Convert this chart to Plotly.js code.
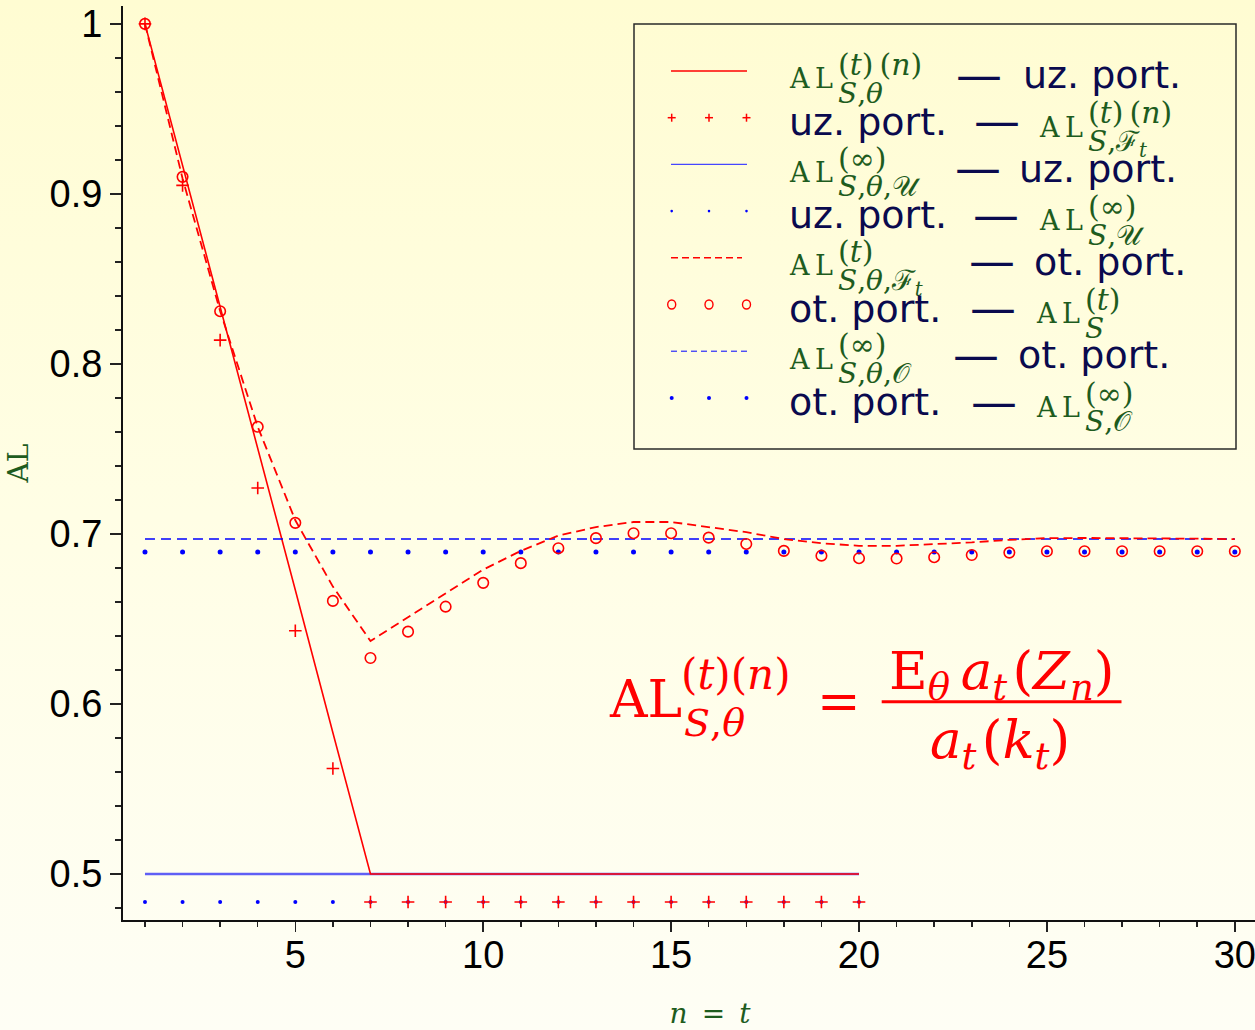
<!DOCTYPE html>
<html><head><meta charset="utf-8">
<script src="https://cdn.plot.ly/plotly-3.0.1.min.js"></script>
<style>
html,body{margin:0;padding:0;}
body{width:1255px;height:1030px;overflow:hidden;background:linear-gradient(to bottom,#fffcd2 0%,#fffee5 50%,#fefef5 100%);}
#chart{width:1255px;height:1030px;}
</style></head><body><div id="chart"></div>
<script>
// ---------- data ----------
const nUz = [1,2,3,4,5,6,7,8,9,10,11,12,13,14,15,16,17,18,19,20];
const nOt = [1,2,3,4,5,6,7,8,9,10,11,12,13,14,15,16,17,18,19,20,21,22,23,24,25,26,27,28,29,30];
// AL_{S,theta}^{(t)(n)} -- uz. port. (red solid)
const alThetaN = [1,0.917,0.833,0.75,0.667,0.583,0.5,0.5,0.5,0.5,0.5,0.5,0.5,0.5,0.5,0.5,0.5,0.5,0.5,0.5];
// uz. port. -- AL_{S,F_t}^{(t)(n)} (red +)
const alFtN = [1,0.905,0.814,0.727,0.643,0.562,0.4835,0.4835,0.4835,0.4835,0.4835,0.4835,0.4835,0.4835,0.4835,0.4835,0.4835,0.4835,0.4835,0.4835];
// AL^{(inf)}_{S,theta,U} -- uz. port. (blue solid)
const alInfThetaU = [0.5,0.5,0.5,0.5,0.5,0.5,0.5,0.5,0.5,0.5,0.5,0.5,0.5,0.5,0.5,0.5,0.5,0.5,0.5,0.5];
// uz. port. -- AL^{(inf)}_{S,U} (blue dots)
const alInfU = [0.4835,0.4835,0.4835,0.4835,0.4835,0.4835,0.4835,0.4835,0.4835,0.4835,0.4835,0.4835,0.4835,0.4835,0.4835,0.4835,0.4835,0.4835,0.4835,0.4835];
// AL^{(t)}_{S,theta,F_t} -- ot. port. (red dashed)
const alThetaFt = [1,0.909,0.831,0.763,0.708,0.669,0.637,0.651,0.665,0.679,0.690,0.699,0.704,0.707,0.707,0.704,0.701,0.697,0.6945,0.693,0.693,0.694,0.695,0.6965,0.6975,0.6976,0.6976,0.6976,0.6972,0.6969];
// ot. port. -- AL^{(t)}_S (red circles)
const alS = [1,0.910,0.831,0.763,0.7065,0.6606,0.627,0.6425,0.6572,0.6712,0.6828,0.6916,0.6975,0.7004,0.7004,0.6978,0.6941,0.690,0.6872,0.6857,0.6855,0.6863,0.6876,0.689,0.6898,0.6898,0.6898,0.6898,0.6898,0.6898];
// AL^{(inf)}_{S,theta,O} -- ot. port. (blue dashed)
const alInfThetaO = [0.697,0.697,0.697,0.697,0.697,0.697,0.697,0.697,0.697,0.697,0.697,0.697,0.697,0.697,0.697,0.697,0.697,0.697,0.697,0.697,0.697,0.697,0.697,0.697,0.697,0.697,0.697,0.697,0.697,0.697];
// ot. port. -- AL^{(inf)}_{S,O} (blue dots)
const alInfO = [0.6894,0.6894,0.6894,0.6894,0.6894,0.6894,0.6894,0.6894,0.6894,0.6894,0.6894,0.6894,0.6894,0.6894,0.6894,0.6894,0.6894,0.6894,0.6894,0.6894,0.6894,0.6894,0.6894,0.6894,0.6894,0.6894,0.6894,0.6894,0.6894,0.6894];

const xTickVals = [5,10,15,20,25,30];
const xTickText = ['5','10','15','20','25','30'];
const yTickVals = [0.5,0.6,0.7,0.8,0.9,1];
const yTickText = ['0.5','0.6','0.7','0.8','0.9','1'];

// legend texts
const legSup = ['(<i>t</i>)\u2009(<i>n</i>)','(<i>t</i>)\u2009(<i>n</i>)','(\u221e)','(\u221e)','(<i>t</i>)','(<i>t</i>)','(\u221e)','(\u221e)'];
const legSub = ['<i>S</i>,<i>\u03b8</i>','<i>S</i>,\u2131<sub><i>t</i></sub>','<i>S</i>,<i>\u03b8</i>,\ud835\udcb0','<i>S</i>,\ud835\udcb0','<i>S</i>,<i>\u03b8</i>,\u2131<sub><i>t</i></sub>','<i>S</i>','<i>S</i>,<i>\u03b8</i>,\ud835\udcaa','<i>S</i>,\ud835\udcaa'];
const legPort = ['uz. port.','uz. port.','uz. port.','uz. port.','ot. port.','ot. port.','ot. port.','ot. port.'];

// ---------- geometry helpers (pixel -> paper) ----------
const L = 123, T = 6, PW = 1132, PH = 914;
const px = v => (v - L) / PW;
const py = v => (T + PH - v) / PH;
const RED = '#ff0000', BLUE = '#0000ff', GREEN = '#1e5c1e', NAVY = '#0a0a4e';
const SERIF = 'DejaVu Serif, Liberation Serif, serif';
const SANS = 'DejaVu Sans, Liberation Sans, sans-serif';

function txt(text, x, baseline, size, family, color, anchor) {
  return {text: text, xref: 'paper', yref: 'paper', x: px(x), y: py(baseline - 0.928 * size),
    xanchor: anchor || 'left', yanchor: 'top', showarrow: false, borderpad: 0,
    font: {size: size, family: family, color: color}};
}

// ---------- traces ----------
const traces = [
  {x: nUz, y: alInfThetaU, mode: 'lines', name: 'AL(inf) S,theta,U - uz. port.', line: {color: 'rgb(95,95,245)', width: 2.5}},
  {x: nUz, y: alInfU, mode: 'markers', name: 'uz. port. - AL(inf) S,U', marker: {color: BLUE, size: 4}},
  {x: nUz, y: alThetaN, mode: 'lines', name: 'AL(t)(n) S,theta - uz. port.', line: {color: RED, width: 1.6}},
  {x: nUz, y: alFtN, mode: 'markers', name: 'uz. port. - AL(t)(n) S,Ft', marker: {symbol: 'cross-thin-open', size: 9, color: RED, line: {color: RED, width: 1.6}}},
  {x: nOt, y: alInfThetaO, mode: 'lines', name: 'AL(inf) S,theta,O - ot. port.', line: {color: BLUE, width: 1.4, dash: '10px,6px'}},
  {x: nOt, y: alInfO, mode: 'markers', name: 'ot. port. - AL(inf) S,O', marker: {color: BLUE, size: 5}},
  {x: nOt, y: alThetaFt, mode: 'lines', name: 'AL(t) S,theta,Ft - ot. port.', line: {color: RED, width: 1.8, dash: '9px,5px'}},
  {x: nOt, y: alS, mode: 'markers', name: 'ot. port. - AL(t) S', marker: {symbol: 'circle-open', size: 10.5, color: RED, line: {color: RED, width: 1.6}}}
];

// ---------- legend (box, samples, texts) ----------
const shapes = [];
const annotations = [];
shapes.push({type: 'rect', xref: 'paper', yref: 'paper', x0: px(634), x1: px(1236), y0: py(24), y1: py(449),
  line: {color: '#2a2a2a', width: 1.5}, fillcolor: 'rgba(0,0,0,0)'});
const rowB = i => 87.5 + 46.7 * i;
const sampleY = i => rowB(i) - 16.5;
function lineSample(i, color, width, dash, x1) {
  shapes.push({type: 'line', xref: 'paper', yref: 'paper', x0: px(671), x1: px(x1 || 747), y0: py(sampleY(i)), y1: py(sampleY(i)),
    line: {color: color, width: width, dash: dash || 'solid'}});
}
const mx = [671.7, 709, 746.5];
lineSample(0, RED, 1.5);
mx.forEach(x => {
  const y = sampleY(1);
  shapes.push({type: 'line', xref: 'paper', yref: 'paper', x0: px(x - 4), x1: px(x + 4), y0: py(y), y1: py(y), line: {color: RED, width: 1.5}});
  shapes.push({type: 'line', xref: 'paper', yref: 'paper', x0: px(x), x1: px(x), y0: py(y - 4), y1: py(y + 4), line: {color: RED, width: 1.5}});
});
lineSample(2, 'rgb(70,70,255)', 1.2);
mx.forEach(x => { const y = sampleY(3);
  shapes.push({type: 'circle', xref: 'paper', yref: 'paper', x0: px(x - 1.3), x1: px(x + 1.3), y0: py(y - 1.3), y1: py(y + 1.3), line: {width: 0}, fillcolor: BLUE}); });
lineSample(4, RED, 1.5, '7px,4px', 742);
mx.forEach(x => { const y = sampleY(5);
  shapes.push({type: 'circle', xref: 'paper', yref: 'paper', x0: px(x - 4), x1: px(x + 4), y0: py(y - 4.5), y1: py(y + 4.5), line: {color: RED, width: 1.4}}); });
lineSample(6, BLUE, 1, '6px,4px');
mx.forEach(x => { const y = sampleY(7);
  shapes.push({type: 'circle', xref: 'paper', yref: 'paper', x0: px(x - 2), x1: px(x + 2), y0: py(y - 2), y1: py(y + 2), line: {width: 0}, fillcolor: BLUE}); });

const leftAL = [true, false, true, false, true, false, true, false];
const dashX = [955, 973, 953.5, 972, 968, 969, 951.5, 970];
const rightX = [1021.7, 1038.4, 1017.8, 1038.4, 1033, 1035, 1017, 1035];
for (let i = 0; i < 8; i++) {
  const B = rowB(i);
  const alX = leftAL[i] ? 787.8 : rightX[i];
  const alB = leftAL[i] ? B : B + 1.5;
  annotations.push(txt('A\u2009L', alX, alB, 27, SERIF, GREEN));
  annotations.push(txt(legSup[i], alX + 49, alB - 13.5, 30, SERIF, GREEN));
  annotations.push(txt(legSub[i], alX + 49, alB + 14.5, 28, SERIF, GREEN));
  annotations.push(txt('\u2014', dashX[i], B - 12 + 13.8, 46, SANS, NAVY));
  annotations.push(txt(legPort[i], leftAL[i] ? rightX[i] : 787.8, B, 38, SANS, NAVY));
}

// ---------- formula ----------
annotations.push(txt('AL', 607.6, 716.7, 52, SERIF, RED));
annotations.push(txt('(<i>t</i>)(<i>n</i>)', 679.6, 688, 42, SERIF, RED));
annotations.push(txt('<i>S</i>,<i>\u03b8</i>', 683, 735, 38, SERIF, RED));
annotations.push(txt('=', 839.5, 718, 52, SERIF, RED, 'center'));
annotations.push(txt('E<sub><i>\u03b8</i></sub>\u2009<i>a</i><sub><i>t</i></sub>\u200a(<i>Z</i><sub><i>n</i></sub>)', 1001.6, 688, 53, SERIF, RED, 'center'));
annotations.push(txt('<i>a</i><sub><i>t</i></sub>\u200a(<i>k</i><sub><i>t</i></sub>)', 999.5, 756.7, 53, SERIF, RED, 'center'));
shapes.push({type: 'line', xref: 'paper', yref: 'paper', x0: px(881.7), x1: px(1121.5), y0: py(701.7), y1: py(701.7), line: {color: RED, width: 3}});

const tickFont = {family: 'Liberation Sans, Arial, sans-serif', size: 38, color: '#000'};

const layout = {
  width: 1255, height: 1030,
  margin: {l: L, r: 0, t: T, b: 1030 - T - PH, pad: 0},
  paper_bgcolor: 'rgba(0,0,0,0)', plot_bgcolor: 'rgba(0,0,0,0)',
  showlegend: false,
  xaxis: {
    range: [0.415, 30.537], showgrid: false, zeroline: false,
    showline: true, linecolor: '#111', linewidth: 2,
    ticks: 'outside', ticklen: 10, tickwidth: 1.5, tickcolor: '#222',
    tickmode: 'array', tickvals: xTickVals, ticktext: xTickText, tickfont: tickFont,
    ticklabelstandoff: -10, ticklabeloverflow: 'allow',
    minor: {tickmode: 'linear', tick0: 0, dtick: 1, ticks: 'outside', ticklen: 5, tickwidth: 1.5, tickcolor: '#222', showgrid: false},
    title: {text: '\u200b\u2002\u2002\u2002<i>n</i>\u2002=\u2002<i>t</i>', font: {family: SERIF, size: 28, color: GREEN}, standoff: 42}
  },
  yaxis: {
    range: [0.4729, 1.0105], showgrid: false, zeroline: false,
    showline: true, linecolor: '#111', linewidth: 2,
    ticks: 'outside', ticklen: 11, tickwidth: 1.5, tickcolor: '#222',
    tickmode: 'array', tickvals: yTickVals, ticktext: yTickText, tickfont: tickFont,
    minor: {tickmode: 'linear', tick0: 0, dtick: 0.02, ticks: 'outside', ticklen: 6, tickwidth: 1.5, tickcolor: '#222', showgrid: false},
    title: {text: 'AL', font: {family: SERIF, size: 28, color: GREEN}, standoff: 13}
  },
  shapes: shapes,
  annotations: annotations
};

Plotly.newPlot('chart', traces, layout, {displayModeBar: false, staticPlot: true});
</script></body></html>
